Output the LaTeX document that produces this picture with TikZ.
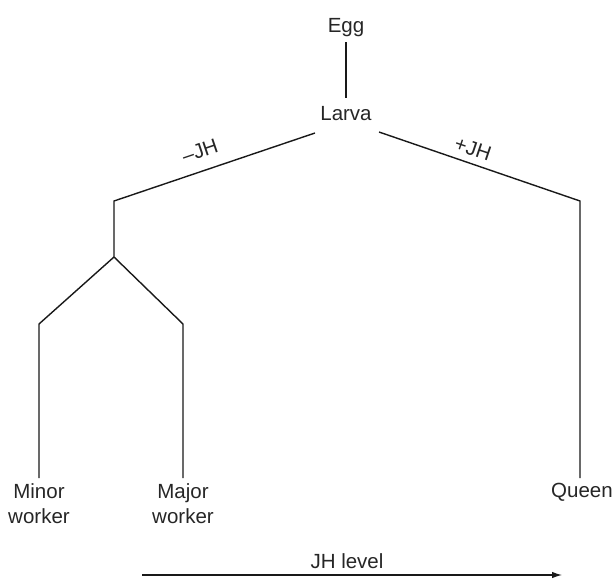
\documentclass[tikz,border=0pt]{standalone}
\usepackage{fontspec}
\setmainfont{Liberation Sans}
\usetikzlibrary{arrows.meta}
\begin{document}
\begin{tikzpicture}[x=1pt,y=-1pt,
  lbl/.style={font=\fontsize{20.5}{25}\selectfont, inner sep=0pt, align=center, text=black!85},
  branch/.style={draw, line width=1.4pt, line join=miter, black!90}]
\useasboundingbox (0,0) rectangle (613,579);
% text nodes
\node[lbl, anchor=base] (egg) at (346,32) {Egg};
\node[lbl, anchor=base] (larva) at (346,120) {Larva};
\node[lbl, anchor=north] (minor) at (39,483) {Minor\\worker};
\node[lbl, anchor=north] (major) at (183,483) {Major\\worker};
\node[lbl, anchor=north] (queen) at (582,483) {Queen};
\node[lbl, rotate=18.7] (minusjh) at (200,151) {–JH};
\node[lbl, rotate=-18.7] (plusjh) at (473,149) {+JH};
\node[lbl, anchor=base] (jhlevel) at (347,568) {JH level};
% corner coordinates
\coordinate (ls) at (315,133);
\coordinate (rs) at (379,132);
\coordinate (lc) at (114,201);
\coordinate (lj) at (114,257);
\coordinate (mc) at (39,324);
\coordinate (jc) at (183,324);
\coordinate (qc) at (580,201);
\coordinate (as) at (142,575);
\coordinate (ae) at (562,575);
% connectors
\draw[branch, shorten <=6pt, shorten >=8pt] (egg.south) -- (larva.north);
\draw[branch] (ls) -- (lc) -- (lj);
\draw[branch, shorten >=5pt] (lj) -- (mc) -- (minor.north);
\draw[branch, shorten >=5pt] (lj) -- (jc) -- (major.north);
\draw[branch, shorten >=5pt] (rs) -- (qc) -- (queen.north -| qc);
\draw[line width=1.2pt, black!90, -{Latex[length=10pt,width=6.5pt]}] (as) -- (ae);
\end{tikzpicture}
\end{document}
